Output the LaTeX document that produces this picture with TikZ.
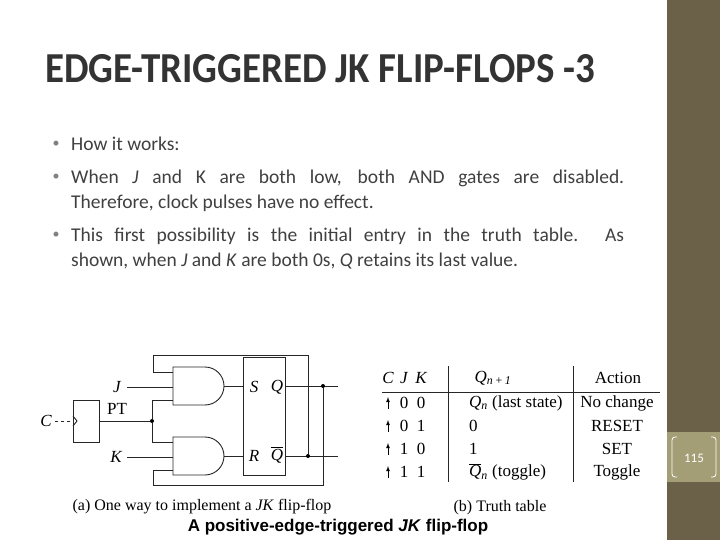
\documentclass[tikz,border=0pt]{standalone}
\usepackage{fontspec}
\setmainfont{Carlito}
\newfontfamily\tms{Liberation Serif}
\newfontfamily\arl{Liberation Sans}
\usetikzlibrary{calc}
\definecolor{side}{HTML}{6B6148}
\definecolor{sidel}{HTML}{A39E75}
\definecolor{txt}{HTML}{404040}
\newcommand{\qit}{{\itshape Q}}
\begin{document}
\begin{tikzpicture}[x=1pt,y=-1pt,
  wire/.style={line width=0.9pt,black!85},
  dotc/.style={circle,fill=black,inner sep=0pt,minimum size=4pt},
  tm/.style={font=\tms\fontsize{17}{17}\selectfont,inner sep=0pt},
  tmi/.style={font=\tms\itshape\fontsize{17}{17}\selectfont,inner sep=0pt},
  gate/.style={wire,fill=white}]
\useasboundingbox (0,0) rectangle (720,540);
\fill[white] (0,0) rectangle (720,540);
\fill[side] (667,0) rectangle (720,540);
\fill[sidel] (667,432) rectangle (720,482);
\draw[white,line width=0.8pt,rounded corners=3pt] (677,437) -- (672,437) -- (672,477) -- (677,477);
\draw[white,line width=0.8pt,rounded corners=3pt] (711,437) -- (716,437) -- (716,477) -- (711,477);
\node[white,font=\fontsize{13}{13}\selectfont] (pg) at (694,458) {115};
% title
\node[anchor=base west,inner sep=0pt,text=black!80] (title) at (45,83)
 {\resizebox{550pt}{28pt}{\bfseries EDGE-TRIGGERED JK FLIP-FLOPS -3}};
% bullets
\node[anchor=north west,inner sep=0pt,text width=553pt,align=justify,text=txt,
 font=\fontsize{19.5}{25}\selectfont] (body) at (71,137)
 {How it works:\par\vspace{8pt}
  When \textit{J} and K are both low, both AND gates are disabled.\linebreak
  Therefore, clock pulses have no effect.\par\vspace{8pt}
  This first possibility is the initial entry in the truth table. As\linebreak
  shown, when \textit{J} and \textit{K} are both 0s, \textit{Q} retains its last value.\par};
\foreach \yy/\n in {144/b1,177/b2,235/b3}
  \node[text=gray,font=\fontsize{14}{14}\selectfont,inner sep=0pt] (\n) at (56,\yy) {•};
% circuit
\draw[gate] (173,367) -- (205,367) arc[start angle=-90,end angle=90,radius=19] -- (173,405) -- cycle;
\draw[gate] (173,437) -- (205,437) arc[start angle=-90,end angle=90,radius=19] -- (173,475) -- cycle;
\node[draw,wire,minimum width=42pt,minimum height=118pt,inner sep=0pt] (sr) at (264,416) {};
\node[tmi] (S) at (254,387) {S};
\node[tmi] (Q) at (277,387) {Q};
\node[tmi] (R) at (254,456) {R};
\node[tmi] (Qb) at (277,456) {Q};
\draw[line width=0.6pt] ($(Qb.north west)+(0,-1)$) -- ($(Qb.north east)+(0,-1)$);
\draw[wire] (224,386) -- (243,386);
\draw[wire] (224,456) -- (243,456);
\draw[wire] (285,386) -- (338,386);
\draw[wire] (285,456) -- (338,456);
\node[dotc] (d1) at (323,386) {};
\node[dotc] (d2) at (308,456) {};
\draw[wire] (d2) -- (308,355) -- (153,355) -- (153,372) -- (173,372);
\draw[wire] (d1) -- (323,485) -- (153,485) -- (153,470) -- (173,470);
\node[draw,wire,minimum width=26pt,minimum height=42pt,inner sep=0pt] (pt) at (86,421) {};
\draw[wire] (73,416) -- (77,421) -- (73,426);
\node[tm] (ptl) at (117,409) {PT};
\node[dotc] (d3) at (152,421) {};
\draw[wire] (99,421) -- (d3);
\draw[wire] (d3) -- (152,400) -- (173,400);
\draw[wire] (d3) -- (152,442) -- (173,442);
\node[tmi] (J) at (117,387) {J};
\node[tmi] (K) at (116,457) {K};
\node[tmi] (C) at (46,421) {C};
\draw[wire,dashed,line width=0.6pt] (55,421) -- (73,421);
\draw[wire] (127,387) -- (173,387);
\draw[wire] (127,457) -- (173,457);
\node[tm,font=\tms\fontsize{16}{16}\selectfont] (capa) at (202,507) {(a) One way to implement a \textit{JK} flip-flop};
\node[font=\arl\bfseries\fontsize{17}{17}\selectfont,inner sep=0pt] (capm) at (338,527) {A positive-edge-triggered \textit{JK} flip-flop};
% table
\draw[wire,line width=0.7pt] (448,366) -- (448,482);
\draw[wire,line width=0.7pt] (573,366) -- (573,482);
\draw[wire,line width=0.7pt] (382,392) -- (660,392);
\foreach \x/\t in {388/C,404/J,421/K}
  \node[tmi] (h\t) at (\x,378) {\t};
\node[tm] (hq) at (493,378) {\qit\textsubscript{\itshape n\,+\,1}};
\node[tm] (ha) at (618,378) {Action};
\foreach \yy/\j/\k/\q/\a [count=\i] in {403/0/0/{\qit\textsubscript{\itshape n} (last state)}/No change,426/0/1/0/RESET,449/1/0/1/SET,472/1/1/{$\overline{\mbox{\qit}}$\textsubscript{\itshape n} (toggle)}/Toggle}{
  \draw[-latex,line width=0.8pt] (388,\yy+6) -- (388,\yy-6);
  \node[tm] (j\i) at (404,\yy) {\j};
  \node[tm] (k\i) at (421,\yy) {\k};
  \node[tm,anchor=west] (q\i) at (469,\yy) {\q};
  \node[tm] (a\i) at (617,\yy) {\a};
}
\node[tm,font=\tms\fontsize{16}{16}\selectfont] (capb) at (500,508) {(b) Truth table};
\end{tikzpicture}
\end{document}
